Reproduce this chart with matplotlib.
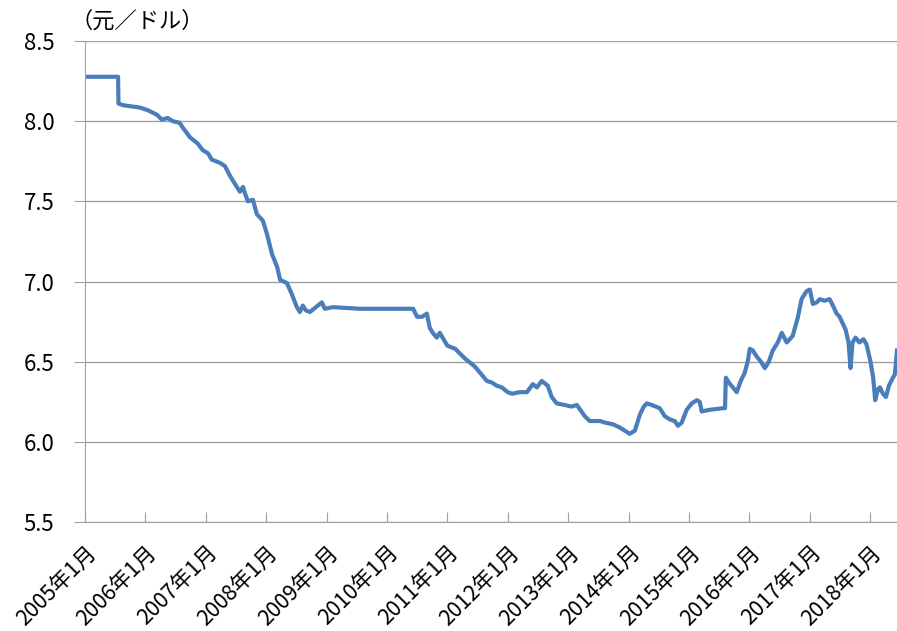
import matplotlib
matplotlib.use("Agg")
import matplotlib.pyplot as plt
import pandas as pd

plt.rcParams['font.family'] = ['Noto Sans CJK JP', 'DejaVu Sans']

# 人民元の対ドルレート（読み取り値）
dates = [
    "2005-01-01", "2005-07-20", "2005-07-22", "2005-08-18", "2005-11-28",
    "2006-01-12", "2006-03-12", "2006-04-10", "2006-05-16", "2006-06-16",
    "2006-07-27", "2006-08-15", "2006-09-27", "2006-11-14", "2006-12-13",
    "2007-01-14", "2007-02-07", "2007-03-28", "2007-04-27", "2007-05-27",
    "2007-07-08", "2007-07-27", "2007-08-14", "2007-08-26", "2007-09-13",
    "2007-10-13", "2007-11-06", "2007-12-12", "2008-01-05", "2008-02-06",
    "2008-03-08", "2008-03-26", "2008-05-06", "2008-06-05", "2008-07-05",
    "2008-07-23", "2008-08-10", "2008-08-28", "2008-09-22", "2008-10-28",
    "2008-12-03", "2008-12-21", "2009-02-08", "2009-07-22", "2010-01-19",
    "2010-06-08", "2010-07-02", "2010-08-01", "2010-08-30", "2010-09-17",
    "2010-10-05", "2010-10-29", "2010-11-16", "2011-01-01", "2011-02-18",
    "2011-04-17", "2011-06-16", "2011-07-27", "2011-08-28", "2011-09-27",
    "2011-10-27", "2011-11-26", "2012-01-01", "2012-01-27", "2012-03-15",
    "2012-04-26", "2012-06-01", "2012-06-25", "2012-07-25", "2012-08-30",
    "2012-09-23", "2012-10-23", "2012-12-10", "2013-01-21", "2013-02-22",
    "2013-04-11", "2013-05-11", "2013-07-12", "2013-08-11", "2013-09-27",
    "2013-11-08", "2013-12-08", "2014-01-08", "2014-02-08", "2014-03-10",
    "2014-04-03", "2014-04-21", "2014-05-21", "2014-06-14", "2014-07-08",
    "2014-08-08", "2014-09-07", "2014-10-07", "2014-10-26", "2014-11-18",
    "2014-12-18", "2015-01-18", "2015-02-17", "2015-03-07", "2015-03-19",
    "2015-05-07", "2015-07-25", "2015-08-07", "2015-08-12", "2015-08-30",
    "2015-09-23", "2015-10-17", "2015-11-10", "2015-12-04", "2015-12-22",
    "2016-01-04", "2016-01-22", "2016-02-16", "2016-03-11", "2016-04-04",
    "2016-04-28", "2016-05-22", "2016-06-21", "2016-07-15", "2016-08-14",
    "2016-09-19", "2016-10-19", "2016-11-12", "2016-12-12", "2017-01-01",
    "2017-01-19", "2017-02-12", "2017-03-02", "2017-04-01", "2017-05-01",
    "2017-05-25", "2017-06-12", "2017-06-30", "2017-07-18", "2017-08-05",
    "2017-08-23", "2017-09-04", "2017-09-16", "2017-10-04", "2017-10-28",
    "2017-11-21", "2017-12-09", "2018-01-01", "2018-01-19", "2018-01-31",
    "2018-02-18", "2018-03-01", "2018-03-19", "2018-04-06", "2018-04-24",
    "2018-05-18", "2018-05-30", "2018-06-12",
]
rates = [
    8.277, 8.277, 8.11, 8.10, 8.085,
    8.07, 8.04, 8.01, 8.02, 8.00,
    7.99, 7.96, 7.90, 7.86, 7.82,
    7.80, 7.76, 7.74, 7.72, 7.66,
    7.59, 7.56, 7.59, 7.55, 7.50,
    7.51, 7.42, 7.38, 7.30, 7.17,
    7.09, 7.01, 6.99, 6.92, 6.84,
    6.81, 6.85, 6.82, 6.81, 6.84,
    6.87, 6.83, 6.84, 6.83, 6.83,
    6.83, 6.78, 6.78, 6.80, 6.71,
    6.68, 6.65, 6.68, 6.60, 6.58,
    6.52, 6.47, 6.42, 6.38, 6.37,
    6.35, 6.34, 6.31, 6.30, 6.31,
    6.31, 6.36, 6.34, 6.38, 6.35,
    6.28, 6.24, 6.23, 6.22, 6.23,
    6.16, 6.13, 6.13, 6.12, 6.11,
    6.09, 6.07, 6.05, 6.07, 6.17,
    6.22, 6.24, 6.23, 6.22, 6.21,
    6.16, 6.14, 6.13, 6.10, 6.12,
    6.20, 6.24, 6.26, 6.25, 6.19,
    6.20, 6.21, 6.21, 6.40, 6.37,
    6.34, 6.31, 6.38, 6.43, 6.50,
    6.58, 6.57, 6.53, 6.50, 6.46,
    6.50, 6.57, 6.62, 6.68, 6.62,
    6.66, 6.77, 6.89, 6.94, 6.95,
    6.86, 6.87, 6.89, 6.88, 6.89,
    6.84, 6.80, 6.78, 6.74, 6.70,
    6.62, 6.46, 6.62, 6.65, 6.62,
    6.64, 6.61, 6.51, 6.40, 6.26,
    6.33, 6.34, 6.30, 6.28, 6.35,
    6.40, 6.42, 6.57,
]
tick_years = list(range(2005, 2019))
tick_labels = [f"{y}年1月" for y in tick_years]
y_ticks = [5.5, 6.0, 6.5, 7.0, 7.5, 8.0, 8.5]

x = pd.to_datetime(dates)

fig = plt.figure(figsize=(8.97, 6.31), dpi=100)
ax = fig.add_axes([0.0948, 0.1727, 0.9052, 0.7623])

ax.plot(x, rates, color='#4a7ebb', lw=3, solid_joinstyle='round')

ax.set_ylim(5.5, 8.5)
ax.set_yticks(y_ticks)
ax.set_yticklabels([f"{v:.1f}" for v in y_ticks], fontsize=16)
ax.set_xlim(pd.Timestamp("2005-01-01"), pd.Timestamp("2018-06-12"))
ax.set_xticks([pd.Timestamp(f"{y}-01-01") for y in tick_years])
ax.set_xticklabels(tick_labels, rotation=45, ha='right', va='top',
                   rotation_mode='anchor', fontsize=15.5)

ax.grid(axis='y', color='#a0a0a0', lw=1)
ax.set_axisbelow(True)
for side in ['top', 'right']:
    ax.spines[side].set_visible(False)
ax.spines['left'].set_color('#a0a0a0')
ax.spines['bottom'].set_color('#a0a0a0')
ax.tick_params(axis='y', length=8, color='#a0a0a0', pad=14)
ax.tick_params(axis='x', direction='in', length=7, color='#a0a0a0', pad=14)

fig.text(0.079, 0.966, "（元／ドル）", fontsize=16, ha='left', va='center')

fig.savefig("out.png", dpi=100)
